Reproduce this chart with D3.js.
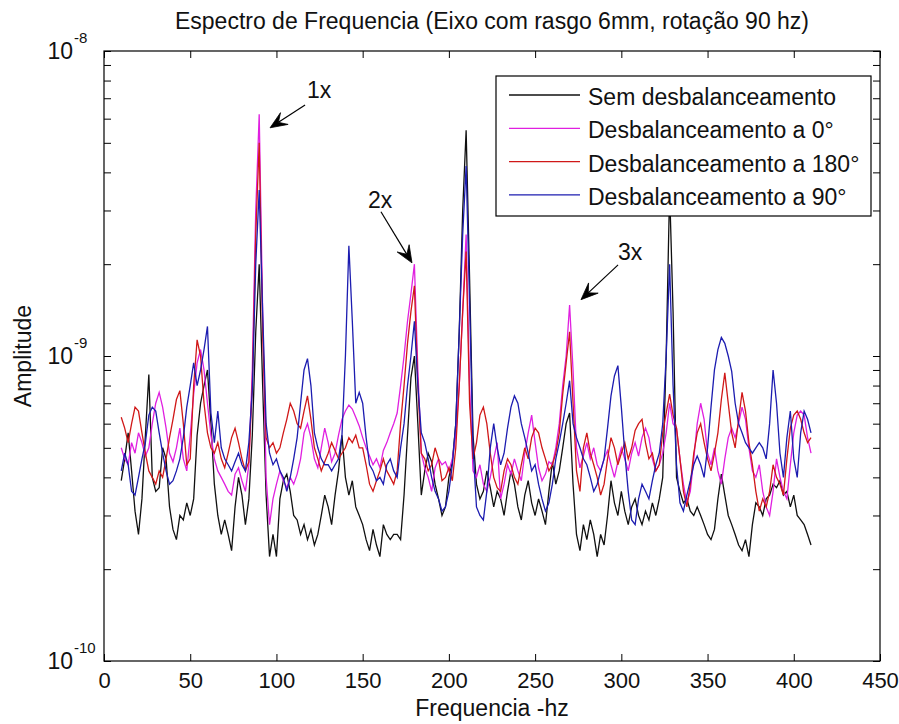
<!DOCTYPE html>
<html>
<head>
<meta charset="utf-8">
<script src="https://cdn.jsdelivr.net/npm/d3@7"></script>
<style>
  body { margin: 0; background: #ffffff; }
  text { font-family: "Liberation Sans", Arial, sans-serif; fill: #111; }
</style>
</head>
<body>
<svg id="chart" width="899" height="724"></svg>
<script>
// Amplitude spectra, in units of 1e-10, sampled every 2 Hz from 10 Hz to 410 Hz
const amplitudeUnit = 1e-10;
const freqStart = 10, freqStep = 2, freqEnd = 410;

const semDesbalanceamento = [
  3.9, 4.6, 5.6, 4.2, 3.1, 2.6, 3.4, 5.5, 8.7, 4.0,
  3.6, 3.7, 5.0, 4.6, 3.2, 2.7, 2.5, 3.0, 2.9, 3.3,
  3.0, 3.4, 5.5, 7.0, 8.0, 9.0, 6.0, 3.8, 3.0, 2.6,
  2.9, 2.6, 2.3, 3.2, 4.0, 3.5, 2.8, 3.4, 5.5, 12,
  20, 8, 3.5, 2.2, 2.6, 2.2, 3.4, 3.9, 4.1, 3.6,
  3.0, 2.9, 2.6, 2.8, 2.5, 2.7, 2.4, 2.6, 3.0, 3.5,
  3.2, 2.8, 3.5, 4.2, 5.5, 4.0, 3.5, 3.9, 3.2, 3.0,
  2.8, 2.5, 2.3, 2.7, 2.4, 2.2, 2.8, 2.6, 2.5, 2.6,
  2.6, 2.5, 3.5, 5.5, 8.5, 10.0, 6.0, 3.5, 4.2, 4.8,
  4.5, 3.8, 3.4, 3.0, 3.2, 4.0, 4.5, 6.0, 12, 30,
  55, 18, 5.5, 3.8, 3.4, 3.6, 4.2, 3.7, 3.2, 3.6,
  3.4, 3.0, 3.6, 4.2, 3.8, 3.2, 2.9, 3.5, 3.9, 3.3,
  3.0, 3.4, 3.1, 2.8, 3.6, 4.5, 3.8, 4.2, 5.0, 6.0,
  6.5, 3.8, 2.6, 2.3, 2.8, 2.5, 2.9, 2.6, 2.2, 2.6,
  2.4, 3.0, 3.9, 3.3, 3.0, 3.6, 3.1, 2.8, 3.2, 3.4,
  3.0, 2.8, 3.1, 2.9, 3.3, 3.0, 3.4, 4.0, 10, 35,
  14, 4.0, 3.6, 3.3, 3.4, 3.1, 3.0, 3.2, 3.0, 2.8,
  2.6, 2.5, 2.7, 3.4, 4.1, 3.5, 3.0, 2.8, 2.6, 2.4,
  2.3, 2.5, 2.2, 2.8, 3.3, 3.2, 3.0, 3.4, 3.5, 3.8,
  3.7, 3.9, 3.5, 3.6, 3.2, 3.5, 3.0, 2.9, 2.8, 2.6,
  2.4
];

const desbalanceamento0 = [
  5.0, 4.6, 4.4, 5.2, 4.8, 5.6, 5.2, 4.7, 5.0, 6.0,
  7.0, 7.6, 6.8, 5.8, 4.8, 4.5, 5.0, 5.8, 4.6, 4.2,
  5.5, 7.5, 9.5, 10.5, 9.0, 7.0, 5.5, 4.6, 4.2, 4.0,
  3.8, 3.6, 3.5, 4.1, 4.3, 3.9, 3.6, 4.4, 9.0, 30,
  62, 14, 4.0, 2.8, 3.4, 3.8, 4.2, 3.9, 3.7, 4.0,
  3.8, 4.1, 4.6, 5.6, 6.0, 5.4, 4.6, 4.3, 5.0, 5.8,
  5.2, 4.5, 4.8, 5.5, 6.2, 6.6, 6.9, 6.7, 6.3, 5.9,
  5.4, 5.0, 4.7, 4.4, 4.6, 4.3, 4.9, 5.2, 5.6, 6.0,
  6.5, 8.0, 10, 13, 16, 20, 9, 4.8, 4.3, 4.0,
  3.6, 4.3, 4.6, 4.4, 4.5, 4.2, 4.6, 5.5, 8, 14,
  25, 8, 4.2, 4.0, 4.4, 3.8, 3.6, 4.0, 4.6, 5.2,
  3.4, 3.8, 4.4, 4.1, 4.6, 4.2, 3.9, 4.8, 5.6, 6.4,
  5.2, 4.3, 3.9, 4.1, 4.5, 4.4, 5.0, 6.0, 8.0, 10,
  14.7, 9, 5.0, 4.3, 4.7, 5.2, 4.6, 5.0, 4.4, 4.2,
  4.6, 4.9, 4.4, 4.0, 4.5, 5.0, 4.6, 4.2, 4.8, 5.2,
  4.7, 5.4, 5.8, 5.4, 4.6, 4.2, 4.4, 4.8, 5.6, 7.0,
  6.0, 5.8, 4.6, 3.8, 3.3, 3.6, 4.6, 6.0, 7.0, 6.2,
  4.8, 4.4, 5.0, 4.2, 3.8, 4.6, 5.4, 5.8, 5.4, 6.0,
  6.8, 6.2, 5.0, 4.2, 4.0, 4.4, 3.6, 3.2, 3.0, 3.6,
  4.6, 4.0, 3.6, 3.4, 4.4, 5.6, 6.4, 6.6, 6.4, 5.4,
  4.8
];

const desbalanceamento180 = [
  6.3, 5.8, 5.2, 6.0, 6.8, 6.6, 5.6, 4.8, 4.2, 4.0,
  3.8, 4.2, 4.0, 4.6, 5.4, 6.2, 7.2, 7.7, 6.0, 4.4,
  4.6, 8.0, 11.3, 10.0, 7.0, 5.6, 5.0, 4.8, 5.2, 4.6,
  4.3, 4.8, 5.4, 5.8, 5.2, 4.6, 4.2, 4.5, 8, 25,
  50, 12, 5.4, 5.0, 5.2, 4.8, 5.0, 5.6, 6.2, 7.0,
  6.6, 6.0, 5.8, 6.6, 7.4, 6.2, 5.0, 4.6, 4.2, 4.5,
  4.8, 5.2, 4.9, 4.6, 4.8, 5.0, 5.4, 5.2, 5.5, 5.0,
  5.0, 4.4, 3.8, 3.6, 3.9, 4.2, 4.6, 4.2, 4.0, 3.8,
  4.2, 6.0, 8.0, 11, 14, 17, 8, 4.8, 4.6, 4.2,
  4.4, 5.0, 4.6, 3.9, 4.0, 4.3, 3.9, 5.0, 8, 14,
  22, 7.0, 4.6, 5.2, 6.4, 6.8, 6.0, 4.8, 4.0, 3.7,
  3.6, 4.2, 4.6, 4.4, 4.0, 3.8, 4.4, 5.0, 4.6, 5.4,
  5.8, 5.6, 5.0, 4.6, 4.2, 4.4, 4.8, 5.6, 7.5, 9.5,
  12, 7, 4.2, 3.6, 5.0, 5.6, 4.8, 4.4, 4.0, 3.5,
  3.8, 4.6, 5.4, 5.0, 4.4, 4.8, 5.2, 4.6, 5.0, 5.7,
  6.0, 6.2, 5.2, 4.6, 4.8, 4.2, 4.4, 5.6, 6.5, 7.5,
  6.4, 5.8, 4.6, 3.6, 3.2, 3.8, 4.8, 5.6, 6.0, 5.2,
  4.6, 4.2, 4.8, 5.6, 7.2, 8.8, 7.0, 5.6, 5.0, 6.2,
  7.6, 6.6, 5.2, 4.4, 3.6, 3.1, 3.4, 3.2, 3.6, 4.4,
  4.0, 3.8, 3.5, 4.6, 5.8, 6.4, 6.6, 6.2, 5.6, 5.2,
  5.4
];

const desbalanceamento90 = [
  4.2, 4.8, 4.4, 3.6, 3.5, 4.0, 4.6, 5.2, 6.4, 6.8,
  6.6, 5.6, 4.8, 4.2, 3.8, 3.9, 4.2, 4.6, 5.4, 6.8,
  8.0, 9.5, 8.0, 9.0, 10.5, 12.5, 6.5, 5.2, 6.6, 5.0,
  4.6, 4.4, 4.2, 4.5, 4.8, 4.4, 4.2, 5.2, 7.7, 20,
  35, 14, 6.0, 4.8, 4.4, 4.6, 4.2, 4.0, 3.6, 4.0,
  4.6, 5.4, 7.0, 9.0, 9.8, 8.0, 5.6, 5.0, 4.6, 4.4,
  4.4, 4.2, 4.4, 4.6, 5.5, 10, 23, 13, 7.0, 7.6,
  7.0, 5.4, 4.4, 4.2, 3.9, 4.0, 3.8, 4.4, 4.6, 4.2,
  4.0, 5.0, 6.0, 8.0, 10, 13, 8.0, 5.6, 5.2, 4.6,
  4.0, 3.6, 3.4, 3.1, 3.2, 3.6, 4.4, 6.0, 12, 25,
  42, 15, 5.0, 3.2, 3.0, 2.9, 3.6, 5.0, 6.0, 5.0,
  4.4, 4.8, 5.8, 6.8, 7.4, 7.0, 6.0, 5.4, 4.8, 4.2,
  4.4, 3.8, 3.4, 3.1, 3.3, 3.8, 4.6, 5.2, 6.0, 7.0,
  8.3, 6.0, 5.4, 5.0, 4.6, 4.4, 4.0, 3.6, 3.8, 4.2,
  4.6, 5.8, 7.4, 8.6, 9.3, 6.8, 4.8, 3.6, 2.9, 2.8,
  3.4, 3.8, 3.6, 3.4, 3.9, 4.4, 4.8, 6.0, 10, 20,
  8, 4.4, 3.3, 3.1, 3.5, 3.9, 4.4, 4.7, 4.4, 4.0,
  5.0, 6.8, 9.0, 10.5, 11.5, 11.0, 10.0, 8.9, 7.0, 6.0,
  5.6, 5.2, 5.0, 4.8, 5.0, 5.2, 5.0, 4.6, 6.0, 9.0,
  7.0, 4.8, 4.0, 5.4, 6.6, 4.6, 4.0, 5.6, 6.6, 6.2,
  5.6
];

const seriesNames = [
  "Sem desbalanceamento",
  "Desbalanceamento a 0°",
  "Desbalanceamento a 180°",
  "Desbalanceamento a 90°"
];
const seriesValues = [semDesbalanceamento, desbalanceamento0, desbalanceamento180, desbalanceamento90];
const seriesColors = ["#101010", "#e020e0", "#d01818", "#1c1cb0"];

const xTickValues = [0, 50, 100, 150, 200, 250, 300, 350, 400, 450];
const yMajorExponents = [-10, -9, -8];

// Harmonic call-outs: label, tip and tail of the arrow, label anchor (Hz, amplitude)
const harmonicLabels = ["1x", "2x", "3x"];
const harmonicTips = [[96.3, 5.6e-9], [178.6, 2.02e-9], [276.6, 1.53e-9]];
const harmonicTails = [[116.6, 6.65e-9], [160.6, 2.97e-9], [298.1, 1.99e-9]];
const harmonicTextAt = [[117.7, 7.0e-9], [153.1, 3.06e-9], [298.1, 2.06e-9]];

const titleText = "Espectro de Frequencia (Eixo com rasgo 6mm, rotação 90 hz)";
const xLabelText = "Frequencia -hz";
const yLabelText = "Amplitude";

// ---------------------------------------------------------------
const svg = d3.select("#chart");
const plot = { left: 104, right: 880, top: 51, bottom: 661 };

const x = d3.scaleLinear().domain([0, 450]).range([plot.left, plot.right]);
const y = d3.scaleLog().domain([1e-10, 1e-8]).range([plot.bottom, plot.top]);

const freqs = d3.range(freqStart, freqEnd + 1, freqStep);

svg.append("rect").attr("width", 899).attr("height", 724).attr("fill", "#fff");

svg.append("defs").append("clipPath").attr("id", "plotClip")
  .append("rect")
  .attr("x", plot.left).attr("y", plot.top)
  .attr("width", plot.right - plot.left).attr("height", plot.bottom - plot.top);

// Data lines, drawn in legend order so the last series sits on top
const line = d3.line()
  .x((d, i) => x(freqs[i]))
  .y(d => y(d * amplitudeUnit));

const linesG = svg.append("g").attr("clip-path", "url(#plotClip)");
seriesValues.forEach((vals, k) => {
  linesG.append("path")
    .datum(vals)
    .attr("d", line)
    .attr("fill", "none")
    .attr("stroke", seriesColors[k])
    .attr("stroke-width", 1.3)
    .attr("stroke-linejoin", "miter");
});

// Tick marks on all four sides, pointing inward
const yTickValues = [];
yMajorExponents.forEach((e, i) => {
  yTickValues.push(Math.pow(10, e));
  if (i < yMajorExponents.length - 1) {
    for (let m = 2; m <= 9; m++) yTickValues.push(m * Math.pow(10, e));
  }
});

const tickLen = 7;
const axisFont = "22px";

const gBottom = svg.append("g")
  .attr("transform", `translate(0,${plot.bottom})`)
  .call(d3.axisBottom(x).tickValues(xTickValues).tickSizeInner(-tickLen).tickSizeOuter(0)
    .tickPadding(11).tickFormat(d3.format("d")));
gBottom.selectAll("text").attr("font-size", axisFont).attr("font-family", "Liberation Sans, Arial, sans-serif").attr("fill", "#111");

const gTop = svg.append("g")
  .attr("transform", `translate(0,${plot.top})`)
  .call(d3.axisTop(x).tickValues(xTickValues).tickSizeInner(-tickLen).tickSizeOuter(0).tickFormat(""));

const gLeft = svg.append("g")
  .attr("transform", `translate(${plot.left},0)`)
  .call(d3.axisLeft(y).tickValues(yTickValues).tickSizeInner(-tickLen).tickSizeOuter(0).tickFormat(""));

const gRight = svg.append("g")
  .attr("transform", `translate(${plot.right},0)`)
  .call(d3.axisRight(y).tickValues(yTickValues).tickSizeInner(-tickLen).tickSizeOuter(0).tickFormat(""));

[gBottom, gTop, gLeft, gRight].forEach(g => {
  g.select(".domain").remove();
  g.selectAll(".tick line").attr("stroke", "#000").attr("stroke-width", 1);
});

// Axes frame
svg.append("rect")
  .attr("x", plot.left).attr("y", plot.top)
  .attr("width", plot.right - plot.left).attr("height", plot.bottom - plot.top)
  .attr("fill", "none").attr("stroke", "#000").attr("stroke-width", 1.2);

// Y labels as powers of ten
yMajorExponents.forEach(e => {
  const yy = y(Math.pow(10, e));
  svg.append("text")
    .attr("x", 73).attr("y", yy + 8)
    .attr("text-anchor", "end")
    .attr("font-size", "23px")
    .text("10");
  svg.append("text")
    .attr("x", 74).attr("y", yy - 8)
    .attr("text-anchor", "start")
    .attr("font-size", "15px")
    .text(String(e));
});

// Title and axis titles
svg.append("text")
  .attr("x", (plot.left + plot.right) / 2).attr("y", 29)
  .attr("text-anchor", "middle").attr("font-size", "23px")
  .text(titleText);

svg.append("text")
  .attr("x", (plot.left + plot.right) / 2).attr("y", 716)
  .attr("text-anchor", "middle").attr("font-size", "23px")
  .text(xLabelText);

svg.append("text")
  .attr("transform", `translate(31,${(plot.top + plot.bottom) / 2}) rotate(-90)`)
  .attr("text-anchor", "middle").attr("font-size", "23px")
  .text(yLabelText);

// Harmonic call-outs with arrows
function arrow(tail, tip) {
  const [x0, y0] = tail, [x1, y1] = tip;
  const dx = x1 - x0, dy = y1 - y0;
  const len = Math.hypot(dx, dy);
  const ux = dx / len, uy = dy / len;
  const px = -uy, py = ux;
  const L = 17, Wd = 7, notch = 10;
  const bx = x1 - ux * L, by = y1 - uy * L;
  const nx = x1 - ux * notch, ny = y1 - uy * notch;
  svg.append("line")
    .attr("x1", x0).attr("y1", y0).attr("x2", nx).attr("y2", ny)
    .attr("stroke", "#000").attr("stroke-width", 1.2);
  svg.append("path")
    .attr("d", `M${x1},${y1} L${bx + px * Wd},${by + py * Wd} L${nx},${ny} L${bx - px * Wd},${by - py * Wd} Z`)
    .attr("fill", "#000").attr("stroke", "#000").attr("stroke-width", 0.8);
}

harmonicLabels.forEach((lab, i) => {
  const tip = [x(harmonicTips[i][0]), y(harmonicTips[i][1])];
  const tail = [x(harmonicTails[i][0]), y(harmonicTails[i][1])];
  arrow(tail, tip);
  svg.append("text")
    .attr("x", x(harmonicTextAt[i][0])).attr("y", y(harmonicTextAt[i][1]))
    .attr("font-size", "23px")
    .text(lab);
});

// Legend
const legend = { x: 496, y: 76, w: 375, h: 140, row0: 95, rowStep: 33.3 };
const lg = svg.append("g");
lg.append("rect")
  .attr("x", legend.x).attr("y", legend.y).attr("width", legend.w).attr("height", legend.h)
  .attr("fill", "#fff").attr("stroke", "#000").attr("stroke-width", 1.2);
seriesNames.forEach((name, k) => {
  const ry = legend.row0 + k * legend.rowStep;
  lg.append("line")
    .attr("x1", legend.x + 13).attr("x2", legend.x + 84)
    .attr("y1", ry).attr("y2", ry)
    .attr("stroke", seriesColors[k]).attr("stroke-width", 1.3);
  lg.append("text")
    .attr("x", legend.x + 92).attr("y", ry + 10)
    .attr("font-size", "23px")
    .text(name);
});
</script>
</body>
</html>
